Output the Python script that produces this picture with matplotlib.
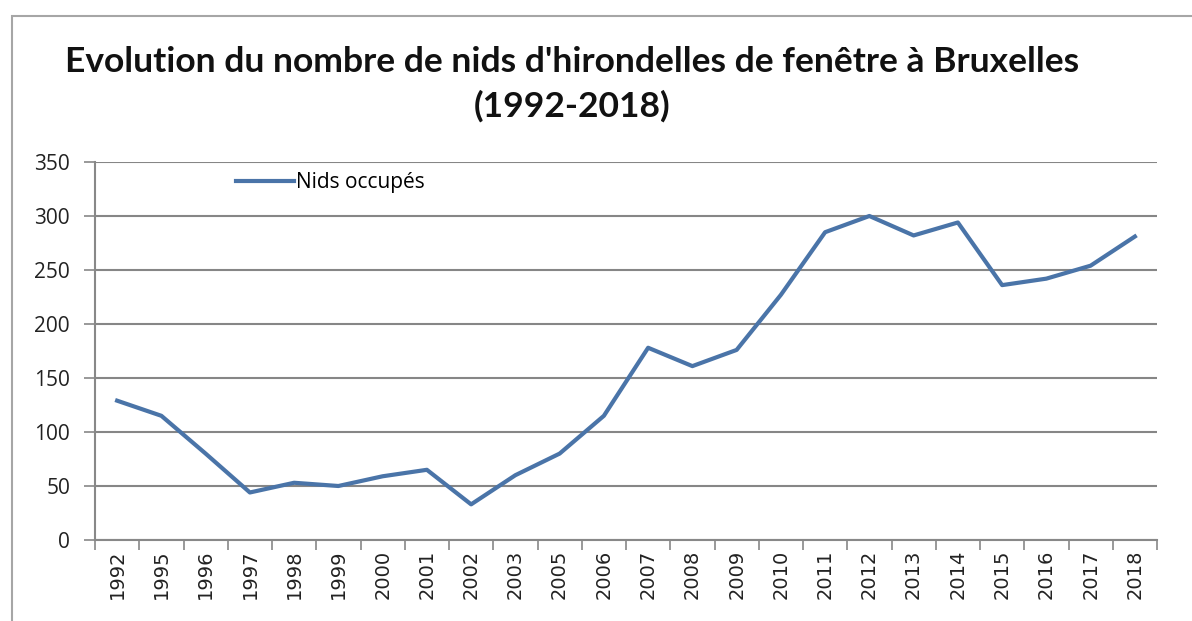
import matplotlib.pyplot as plt
from matplotlib.patches import Rectangle
import numpy as np

years = ["1992", "1995", "1996", "1997", "1998", "1999", "2000", "2001", "2002",
         "2003", "2005", "2006", "2007", "2008", "2009", "2010", "2011", "2012",
         "2013", "2014", "2015", "2016", "2017", "2018"]
nids = [129, 115, 80, 44, 53, 50, 59, 65, 33, 60, 80, 115, 178, 161, 176, 227,
        285, 300, 282, 294, 236, 242, 254, 281]

fig = plt.figure(figsize=(11.92, 6.21), dpi=100)
fig.patches.append(Rectangle((12 / 1192, -0.1), 1.2, (621 - 16) / 621 + 0.1,
                             transform=fig.transFigure, fill=False,
                             edgecolor="#a6a6a6", linewidth=1.5))

ax = fig.add_axes([95 / 1192, 81 / 621, 1062 / 1192, 378 / 621])
x = np.arange(len(years))
ax.plot(x, nids, color="#4a74a8", linewidth=3, label="Nids occupés")

ax.set_xlim(-0.5, len(years) - 0.5)
ax.set_ylim(0, 350)
ax.set_yticks(range(0, 351, 50))
ax.set_xticks(x)
ax.set_xticklabels(years, rotation=90, fontsize=14, family="DejaVu Sans",
                   color="#222222")
ax.set_xticks(np.arange(-0.5, len(years), 1), minor=True)
ax.tick_params(axis="x", which="major", length=0, pad=7)
ax.tick_params(axis="x", which="minor", length=7, color="#888888", width=1.2,
               direction="out")
ax.tick_params(axis="y", length=8, color="#888888", width=1.2, pad=10)
for lab in ax.get_yticklabels():
    lab.set_family("Open Sans")
    lab.set_fontsize(15)
    lab.set_color("#222222")

ax.grid(axis="y", color="#868686", linewidth=1.5)
ax.set_axisbelow(True)
for s in ["top", "right"]:
    ax.spines[s].set_visible(False)
for s in ["left", "bottom"]:
    ax.spines[s].set_color("#888888")
    ax.spines[s].set_linewidth(1.5)

ax.legend(loc="upper left", bbox_to_anchor=(0.125, 0.995), frameon=False,
          prop={"family": "Open Sans", "size": 15}, handlelength=2.8,
          handletextpad=0.1, borderaxespad=0)

fig.text(572 / 1192, 1 - 117 / 621,
         "Evolution du nombre de nids d'hirondelles de fenêtre à Bruxelles\n(1992-2018)",
         ha="center", va="baseline", fontsize=25.5, fontweight="bold",
         family="Lato", linespacing=1.45, color="#111111")

fig.savefig("out.png", dpi=100)
